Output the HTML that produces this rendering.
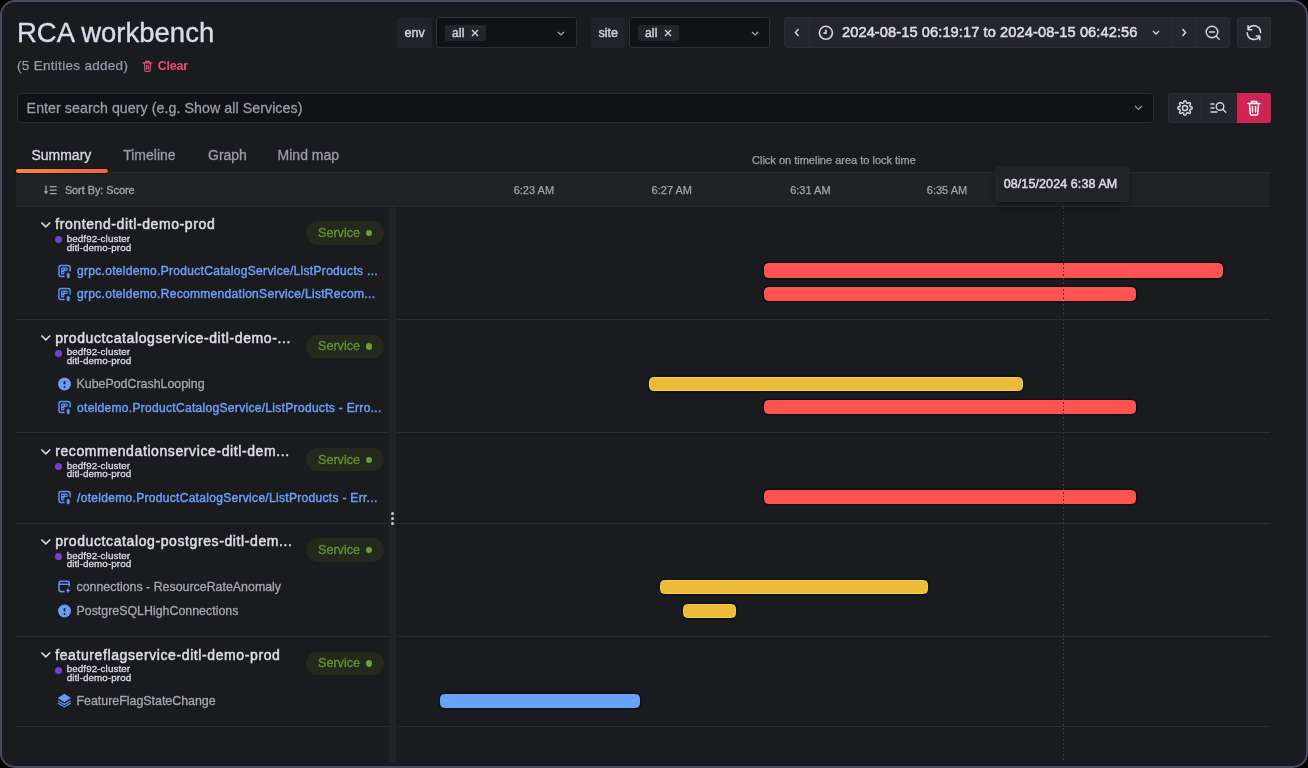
<!DOCTYPE html>
<html><head><meta charset="utf-8">
<style>
html,body{margin:0;padding:0;background:#000;width:1308px;height:768px;overflow:hidden}
*{box-sizing:border-box}
body{font-family:"Liberation Sans",sans-serif}
#frame{position:absolute;left:0;top:0;width:1308px;height:768px;border:2px solid #4a495b;border-radius:15px;background:#1a1b1f;overflow:hidden}
.a{position:absolute;white-space:nowrap}
.t{position:absolute;white-space:nowrap;line-height:1}
svg{position:absolute;overflow:visible}
</style></head>
<body>
<div id="frame"></div>
<div id="ui" style="position:absolute;left:0;top:0;width:1308px;height:768px;will-change:transform">

<!-- Title -->
<div class="t" style="left:17px;top:19px;font-size:27.5px;color:#dcdbe8;-webkit-text-stroke:0.35px #dcdbe8">RCA workbench</div>
<div class="t" style="left:17px;top:58.6px;font-size:13.5px;color:#9a99a6;letter-spacing:0.3px;-webkit-text-stroke:0.25px #9a99a6">(5 Entities added)</div>
<svg style="left:141.5px;top:60px" width="11" height="12" viewBox="0 0 12 13"><path d="M1 3h10M4 3V1.5h4V3M2.5 3l.7 8.5c0 .6.5 1 1 1h3.6c.5 0 1-.4 1-1L9.5 3M5 5.5v4.5M7 5.5v4.5" fill="none" stroke="#e84d74" stroke-width="1.3" stroke-linecap="round" stroke-linejoin="round"/></svg>
<div class="t" style="left:157.7px;top:60.3px;font-size:12.5px;font-weight:700;letter-spacing:-0.2px;color:#ec4f78">Clear</div>

<!-- env -->
<div class="a" style="left:397px;top:17.5px;width:35px;height:30px;background:#222328;border-radius:2px"></div>
<div class="t" style="left:404.4px;top:26.5px;font-size:12.6px;-webkit-text-stroke:0.4px #d6d5df;color:#d6d5df">env</div>
<div class="a" style="left:436px;top:17px;width:141px;height:31px;background:#111216;border:1px solid #2e2f35;border-radius:3px"></div>
<div class="a" style="left:445px;top:24.5px;width:41px;height:16.5px;background:#24252a;border-radius:2px"></div>
<div class="t" style="left:452px;top:27px;font-size:12px;letter-spacing:0.2px;-webkit-text-stroke:0.4px #d6d5df;color:#d6d5df">all</div>
<svg style="left:471px;top:28.5px" width="8" height="8" viewBox="0 0 8 8"><path d="M1 1l6 6M7 1L1 7" stroke="#d6d5df" stroke-width="1.4"/></svg>
<svg style="left:557px;top:31px" width="8" height="5" viewBox="0 0 8 5"><path d="M1 1l3 3 3-3" fill="none" stroke="#a9a8b3" stroke-width="1.2"/></svg>

<!-- site -->
<div class="a" style="left:591px;top:17.5px;width:34px;height:30px;background:#222328;border-radius:2px"></div>
<div class="t" style="left:598.4px;top:26.5px;font-size:12.6px;-webkit-text-stroke:0.4px #d6d5df;color:#d6d5df">site</div>
<div class="a" style="left:629px;top:17px;width:141px;height:31px;background:#111216;border:1px solid #2e2f35;border-radius:3px"></div>
<div class="a" style="left:638px;top:24.5px;width:41px;height:16.5px;background:#24252a;border-radius:2px"></div>
<div class="t" style="left:645px;top:27px;font-size:12px;letter-spacing:0.2px;-webkit-text-stroke:0.4px #d6d5df;color:#d6d5df">all</div>
<svg style="left:664px;top:28.5px" width="8" height="8" viewBox="0 0 8 8"><path d="M1 1l6 6M7 1L1 7" stroke="#d6d5df" stroke-width="1.4"/></svg>
<svg style="left:751px;top:31px" width="8" height="5" viewBox="0 0 8 5"><path d="M1 1l3 3 3-3" fill="none" stroke="#a9a8b3" stroke-width="1.2"/></svg>

<!-- time range group -->
<div class="a" style="left:784px;top:17px;width:446px;height:31px;background:#25262b;border:1px solid #2c2d32;border-radius:3px"></div>
<div class="a" style="left:809px;top:18px;width:1px;height:29px;background:#2d2e34"></div>
<div class="a" style="left:1171px;top:18px;width:1px;height:29px;background:#2d2e34"></div>
<div class="a" style="left:1196px;top:18px;width:1px;height:29px;background:#2d2e34"></div>
<svg style="left:794px;top:28px" width="6" height="9" viewBox="0 0 6 9"><path d="M4.5 1L1.5 4.5 4.5 8" fill="none" stroke="#d6d5df" stroke-width="1.5"/></svg>
<svg style="left:818px;top:25px" width="16" height="16" viewBox="0 0 16 16"><circle cx="7.9" cy="7.8" r="6.5" fill="none" stroke="#d6d5df" stroke-width="1.6"/><path d="M7.9 4.5v3.6H5.5" fill="none" stroke="#d6d5df" stroke-width="1.7"/></svg>
<div class="t" style="left:842px;top:25px;font-size:14.6px;letter-spacing:0.1px;-webkit-text-stroke:0.55px #dcdbe6;color:#dcdbe6">2024-08-15 06:19:17 to 2024-08-15 06:42:56</div>
<svg style="left:1152px;top:30px" width="8" height="5" viewBox="0 0 8 5"><path d="M1 1l3 3 3-3" fill="none" stroke="#d6d5df" stroke-width="1.3"/></svg>
<svg style="left:1181px;top:28px" width="6" height="9" viewBox="0 0 6 9"><path d="M1.5 1l3 3.5L1.5 8" fill="none" stroke="#d6d5df" stroke-width="1.5"/></svg>
<svg style="left:1205px;top:25px" width="16" height="16" viewBox="0 0 16 16"><circle cx="7" cy="7" r="5.8" fill="none" stroke="#d6d5df" stroke-width="1.4"/><path d="M4.5 7h5M11.2 11.2l3 3" fill="none" stroke="#d6d5df" stroke-width="1.4" stroke-linecap="round"/></svg>
<div class="a" style="left:1237px;top:17px;width:33.5px;height:31px;background:#25262b;border:1px solid #2c2d32;border-radius:3px"></div>
<svg style="left:1240px;top:20px" width="28" height="26" viewBox="0 0 28 26"><path d="M8.6 8.4A6.6 6.6 0 0 1 20.5 12.6M7.3 12.9A6.6 6.6 0 0 0 19.3 16.6M8.1 5.9V9.7H11.9M16.3 16H19.7V19.8" fill="none" stroke="#d6d5df" stroke-width="1.6" stroke-linecap="round" stroke-linejoin="round"/></svg>

<!-- search -->
<div class="a" style="left:16.5px;top:93px;width:1137.5px;height:30px;background:#111216;border:1px solid #2a2b30;border-radius:3px"></div>
<div class="t" style="left:26.6px;top:100.5px;font-size:14.2px;letter-spacing:0.07px;-webkit-text-stroke:0.3px #9c9ba6;color:#9c9ba6">Enter search query (e.g. Show all Services)</div>
<svg style="left:1134px;top:105px" width="9" height="6" viewBox="0 0 9 6"><path d="M1 1l3.5 3.5L8 1" fill="none" stroke="#9c9ba6" stroke-width="1.2"/></svg>

<div class="a" style="left:1168px;top:92.5px;width:70px;height:30.5px;background:#25262b;border:1px solid #2c2d32;border-radius:3px 0 0 3px"></div>
<div class="a" style="left:1200.5px;top:93.5px;width:1px;height:28.5px;background:#2d2e34"></div>
<div class="a" style="left:1237px;top:92.5px;width:33.5px;height:30.5px;background:#ce2553;border-radius:0 3px 3px 0"></div>
<svg style="left:1176.6px;top:99.9px" width="16" height="16" viewBox="0 0 16 16"><path d="M15.15 8.00 L15.13 8.28 L15.06 8.56 L14.91 8.82 L14.59 9.04 L14.08 9.21 L13.57 9.34 L13.24 9.48 L13.05 9.64 L12.94 9.82 L12.85 10.01 L12.78 10.20 L12.73 10.41 L12.75 10.66 L12.88 10.99 L13.16 11.44 L13.40 11.92 L13.46 12.31 L13.39 12.60 L13.24 12.84 L13.06 13.06 L12.84 13.24 L12.60 13.39 L12.31 13.46 L11.92 13.40 L11.44 13.16 L10.99 12.88 L10.66 12.75 L10.41 12.73 L10.20 12.78 L10.01 12.85 L9.82 12.94 L9.64 13.05 L9.48 13.24 L9.34 13.57 L9.21 14.08 L9.04 14.59 L8.82 14.91 L8.56 15.06 L8.28 15.13 L8.00 15.15 L7.72 15.13 L7.44 15.06 L7.18 14.91 L6.96 14.59 L6.79 14.08 L6.66 13.57 L6.52 13.24 L6.36 13.05 L6.18 12.94 L5.99 12.85 L5.80 12.78 L5.59 12.73 L5.34 12.75 L5.01 12.88 L4.56 13.16 L4.08 13.40 L3.69 13.46 L3.40 13.39 L3.16 13.24 L2.94 13.06 L2.76 12.84 L2.61 12.60 L2.54 12.31 L2.60 11.92 L2.84 11.44 L3.12 10.99 L3.25 10.66 L3.27 10.41 L3.22 10.20 L3.15 10.01 L3.06 9.82 L2.95 9.64 L2.76 9.48 L2.43 9.34 L1.92 9.21 L1.41 9.04 L1.09 8.82 L0.94 8.56 L0.87 8.28 L0.85 8.00 L0.87 7.72 L0.94 7.44 L1.09 7.18 L1.41 6.96 L1.92 6.79 L2.43 6.66 L2.76 6.52 L2.95 6.36 L3.06 6.18 L3.15 5.99 L3.22 5.80 L3.27 5.59 L3.25 5.34 L3.12 5.01 L2.84 4.56 L2.60 4.08 L2.54 3.69 L2.61 3.40 L2.76 3.16 L2.94 2.94 L3.16 2.76 L3.40 2.61 L3.69 2.54 L4.08 2.60 L4.56 2.84 L5.01 3.12 L5.34 3.25 L5.59 3.27 L5.80 3.22 L5.99 3.15 L6.18 3.06 L6.36 2.95 L6.52 2.76 L6.66 2.43 L6.79 1.92 L6.96 1.41 L7.18 1.09 L7.44 0.94 L7.72 0.87 L8.00 0.85 L8.28 0.87 L8.56 0.94 L8.82 1.09 L9.04 1.41 L9.21 1.92 L9.34 2.43 L9.48 2.76 L9.64 2.95 L9.82 3.06 L10.01 3.15 L10.20 3.22 L10.41 3.27 L10.66 3.25 L10.99 3.12 L11.44 2.84 L11.92 2.60 L12.31 2.54 L12.60 2.61 L12.84 2.76 L13.06 2.94 L13.24 3.16 L13.39 3.40 L13.46 3.69 L13.40 4.08 L13.16 4.56 L12.88 5.01 L12.75 5.34 L12.73 5.59 L12.78 5.80 L12.85 5.99 L12.94 6.18 L13.05 6.36 L13.24 6.52 L13.57 6.66 L14.08 6.79 L14.59 6.96 L14.91 7.18 L15.06 7.44 L15.13 7.72Z" fill="none" stroke="#d6d5df" stroke-width="1.5" stroke-linejoin="round"/><circle cx="8" cy="8" r="2.6" fill="none" stroke="#d6d5df" stroke-width="1.5"/></svg>
<svg style="left:1210.4px;top:100.3px" width="17" height="15" viewBox="0 0 17 15"><path d="M1 4h3M1 8h3M1 12h6" fill="none" stroke="#d6d5df" stroke-width="1.4" stroke-linecap="round"/><circle cx="10" cy="6.5" r="3.8" fill="none" stroke="#d6d5df" stroke-width="1.4"/><path d="M12.8 9.3l3 3" stroke="#d6d5df" stroke-width="1.4" stroke-linecap="round"/></svg>
<svg style="left:1247px;top:100px" width="14" height="16" viewBox="0 0 14 16"><path d="M1 3.5h12M4.5 3.5V1.5h5v2M2.5 3.5l.8 10.5c0 .6.5 1 1 1h5.4c.5 0 1-.4 1-1l.8-10.5M5.5 6.5v5.5M8.5 6.5v5.5" fill="none" stroke="#fff" stroke-width="1.5" stroke-linecap="round" stroke-linejoin="round"/></svg>

<!-- tabs -->
<div class="t" style="left:31.4px;top:147.75px;font-size:14px;-webkit-text-stroke:0.3px #dcdbe6;color:#dcdbe6">Summary</div>
<div class="t" style="left:123.2px;top:147.75px;font-size:14px;-webkit-text-stroke:0.3px #9c9ba6;color:#9c9ba6">Timeline</div>
<div class="t" style="left:208px;top:147.75px;font-size:14px;-webkit-text-stroke:0.3px #9c9ba6;color:#9c9ba6">Graph</div>
<div class="t" style="left:277.6px;top:147.75px;font-size:14px;-webkit-text-stroke:0.3px #9c9ba6;color:#9c9ba6">Mind map</div>
<div class="t" style="left:752px;top:155.3px;font-size:11px;-webkit-text-stroke:0.25px #a3a2ad;color:#a3a2ad">Click on timeline area to lock time</div>

<!-- header band -->
<div class="a" style="left:16px;top:172px;width:1254px;height:35px;background:#212226;border-top:1px solid #28292e;border-bottom:1px solid #28292e"></div>
<svg style="left:43px;top:184px" width="15" height="11" viewBox="0 0 15 11"><path d="M3 2.2V8.6" stroke="#a3a2ad" stroke-width="1.3" stroke-linecap="round"/><path d="M1.2 7.4L3 9.9L4.8 7.4Z" fill="#a3a2ad" stroke="#a3a2ad" stroke-width="0.6" stroke-linejoin="round"/><path d="M6.8 2.6H13.6M6.8 6.1H13.6M6.8 9.6H13.6" stroke="#a3a2ad" stroke-width="1.15"/></svg>
<div class="t" style="left:64.9px;top:185.3px;font-size:10.8px;-webkit-text-stroke:0.35px #a3a2ad;color:#a3a2ad">Sort By: Score</div>
<div class="t" style="left:513.7px;top:184.8px;font-size:11px;-webkit-text-stroke:0.25px #a3a2ad;color:#a3a2ad">6:23 AM</div>
<div class="t" style="left:651.6px;top:184.8px;font-size:11px;-webkit-text-stroke:0.25px #a3a2ad;color:#a3a2ad">6:27 AM</div>
<div class="t" style="left:790.2px;top:184.8px;font-size:11px;-webkit-text-stroke:0.25px #a3a2ad;color:#a3a2ad">6:31 AM</div>
<div class="t" style="left:926.8px;top:184.8px;font-size:11px;-webkit-text-stroke:0.25px #a3a2ad;color:#a3a2ad">6:35 AM</div>

<div class="a" style="left:16px;top:168.6px;width:92px;height:4.2px;border-radius:2.1px;background:linear-gradient(90deg,#fb8538,#f3623b);box-shadow:0 0 0 1px #111418"></div>
<!-- divider strip -->
<div class="a" style="left:389px;top:206.5px;width:7px;height:555px;background:#222327"></div>
<div class="a" style="left:391.3px;top:512px;width:3px;height:3px;border-radius:50%;background:#c8c7d0"></div>
<div class="a" style="left:391.3px;top:517.2px;width:3px;height:3px;border-radius:50%;background:#c8c7d0"></div>
<div class="a" style="left:391.3px;top:522.4px;width:3px;height:3px;border-radius:50%;background:#c8c7d0"></div>

<!-- separators -->
<div class="a" style="left:16px;top:319px;width:373px;height:1px;background:#2b2c31"></div>
<div class="a" style="left:396.5px;top:319px;width:873.5px;height:1px;background:#2b2c31"></div>
<div class="a" style="left:16px;top:432px;width:373px;height:1px;background:#2b2c31"></div>
<div class="a" style="left:396.5px;top:432px;width:873.5px;height:1px;background:#2b2c31"></div>
<div class="a" style="left:16px;top:523px;width:373px;height:1px;background:#2b2c31"></div>
<div class="a" style="left:396.5px;top:523px;width:873.5px;height:1px;background:#2b2c31"></div>
<div class="a" style="left:16px;top:636px;width:373px;height:1px;background:#2b2c31"></div>
<div class="a" style="left:396.5px;top:636px;width:873.5px;height:1px;background:#2b2c31"></div>
<div class="a" style="left:16px;top:726px;width:373px;height:1px;background:#2b2c31"></div>
<div class="a" style="left:396.5px;top:726px;width:873.5px;height:1px;background:#2b2c31"></div>

<svg style="left:39.5px;top:220.80px" width="12" height="8" viewBox="0 0 12 8"><path d="M1.4 1.5L5.8 5.9L10.2 1.5" fill="none" stroke="#dcdbe6" stroke-width="1.6"/></svg>
<div class="t" style="left:55.2px;top:217.35px;font-size:14px;letter-spacing:0.6px;-webkit-text-stroke:0.5px #dedde7;color:#dedde7">frontend-ditl-demo-prod</div>
<div class="a" style="left:55px;top:236.10px;width:7px;height:7px;border-radius:50%;background:#7341cf"></div>
<div class="t" style="left:66.7px;top:233.90px;font-size:9.8px;letter-spacing:0.1px;-webkit-text-stroke:0.3px #dcdbe6;color:#dcdbe6">bedf92-cluster</div>
<div class="t" style="left:66.7px;top:242.50px;font-size:9.8px;letter-spacing:0.1px;-webkit-text-stroke:0.3px #dcdbe6;color:#dcdbe6">ditl-demo-prod</div>
<div class="a" style="left:306px;top:221.10px;width:77.6px;height:23.6px;border-radius:12px;background:#23291d"></div>
<div class="t" style="left:318px;top:226.80px;font-size:12.6px;-webkit-text-stroke:0.3px #63952f;color:#63952f">Service</div>
<div class="a" style="left:366px;top:229.80px;width:6.4px;height:6.4px;border-radius:50%;background:#6b9f33"></div>
<svg style="left:55px;top:260.5px" width="20" height="20" viewBox="0 0 20 20"><path d="M15.1 10.4V6.8Q15.1 4.55 12.85 4.55H6.15Q3.9 4.55 3.9 6.8V13.35Q3.9 15.6 6.15 15.6H9.6" fill="none" stroke="#5f8ff0" stroke-width="1.5"/><path d="M7.2 6.6H11.6Q12.8 6.6 12.8 7.8V8.85Q12.8 10.05 11.6 10.05H9.4V12.3Q9.4 13.5 8.2 13.5H7.2Q6 13.5 6 12.3V7.8Q6 6.6 7.2 6.6Z" fill="#5f8ff0"/><ellipse cx="7.8" cy="8.4" rx="0.75" ry="0.6" fill="#15161a"/><ellipse cx="10.9" cy="8.4" rx="0.75" ry="0.6" fill="#15161a"/><ellipse cx="7.8" cy="11.6" rx="0.75" ry="0.6" fill="#15161a"/><rect x="11.3" y="11.6" width="3.8" height="6" rx="1.9" fill="#5f8ff0" stroke="#1a1b1f" stroke-width="0.7"/></svg>
<div class="t" style="left:77px;top:264.74px;font-size:12px;letter-spacing:0.31px;-webkit-text-stroke:0.45px #6d9ef8;color:#6d9ef8">grpc.oteldemo.ProductCatalogService/ListProducts ...</div>
<svg style="left:55px;top:283.8px" width="20" height="20" viewBox="0 0 20 20"><path d="M15.1 10.4V6.8Q15.1 4.55 12.85 4.55H6.15Q3.9 4.55 3.9 6.8V13.35Q3.9 15.6 6.15 15.6H9.6" fill="none" stroke="#5f8ff0" stroke-width="1.5"/><path d="M7.2 6.6H11.6Q12.8 6.6 12.8 7.8V8.85Q12.8 10.05 11.6 10.05H9.4V12.3Q9.4 13.5 8.2 13.5H7.2Q6 13.5 6 12.3V7.8Q6 6.6 7.2 6.6Z" fill="#5f8ff0"/><ellipse cx="7.8" cy="8.4" rx="0.75" ry="0.6" fill="#15161a"/><ellipse cx="10.9" cy="8.4" rx="0.75" ry="0.6" fill="#15161a"/><ellipse cx="7.8" cy="11.6" rx="0.75" ry="0.6" fill="#15161a"/><rect x="11.3" y="11.6" width="3.8" height="6" rx="1.9" fill="#5f8ff0" stroke="#1a1b1f" stroke-width="0.7"/></svg>
<div class="t" style="left:77px;top:288.04px;font-size:12px;letter-spacing:0.31px;-webkit-text-stroke:0.45px #6d9ef8;color:#6d9ef8">grpc.oteldemo.RecommendationService/ListRecom...</div>
<div class="a" style="left:764.2px;top:263.40px;width:458.7px;height:14.2px;border-radius:4.5px;background:#fe5350;border:1px solid #fe5350;box-shadow:0 0 0 1.4px #0b1115"></div>
<div class="a" style="left:764.2px;top:286.70px;width:372.0px;height:14.2px;border-radius:4.5px;background:#fe5350;border:1px solid #fe5350;box-shadow:0 0 0 1.4px #0b1115"></div>
<svg style="left:39.5px;top:334.30px" width="12" height="8" viewBox="0 0 12 8"><path d="M1.4 1.5L5.8 5.9L10.2 1.5" fill="none" stroke="#dcdbe6" stroke-width="1.6"/></svg>
<div class="t" style="left:55.2px;top:330.85px;font-size:14px;letter-spacing:0.6px;-webkit-text-stroke:0.5px #dedde7;color:#dedde7">productcatalogservice-ditl-demo-...</div>
<div class="a" style="left:55px;top:349.60px;width:7px;height:7px;border-radius:50%;background:#7341cf"></div>
<div class="t" style="left:66.7px;top:347.40px;font-size:9.8px;letter-spacing:0.1px;-webkit-text-stroke:0.3px #dcdbe6;color:#dcdbe6">bedf92-cluster</div>
<div class="t" style="left:66.7px;top:356.00px;font-size:9.8px;letter-spacing:0.1px;-webkit-text-stroke:0.3px #dcdbe6;color:#dcdbe6">ditl-demo-prod</div>
<div class="a" style="left:306px;top:334.60px;width:77.6px;height:23.6px;border-radius:12px;background:#23291d"></div>
<div class="t" style="left:318px;top:340.30px;font-size:12.6px;-webkit-text-stroke:0.3px #63952f;color:#63952f">Service</div>
<div class="a" style="left:366px;top:343.30px;width:6.4px;height:6.4px;border-radius:50%;background:#6b9f33"></div>
<svg style="left:55px;top:374.0px" width="20" height="20" viewBox="0 0 20 20"><circle cx="9.5" cy="10" r="6.5" fill="#6a9bf7"/><path d="M9.5 7.8V9.6" stroke="#15161a" stroke-width="1.8" stroke-linecap="round"/><circle cx="9.5" cy="12.9" r="0.9" fill="#15161a"/></svg>
<div class="t" style="left:76.5px;top:377.90px;font-size:12.4px;-webkit-text-stroke:0.3px #a7a6b0;color:#a7a6b0">KubePodCrashLooping</div>
<svg style="left:55px;top:397.3px" width="20" height="20" viewBox="0 0 20 20"><path d="M15.1 10.4V6.8Q15.1 4.55 12.85 4.55H6.15Q3.9 4.55 3.9 6.8V13.35Q3.9 15.6 6.15 15.6H9.6" fill="none" stroke="#5f8ff0" stroke-width="1.5"/><path d="M7.2 6.6H11.6Q12.8 6.6 12.8 7.8V8.85Q12.8 10.05 11.6 10.05H9.4V12.3Q9.4 13.5 8.2 13.5H7.2Q6 13.5 6 12.3V7.8Q6 6.6 7.2 6.6Z" fill="#5f8ff0"/><ellipse cx="7.8" cy="8.4" rx="0.75" ry="0.6" fill="#15161a"/><ellipse cx="10.9" cy="8.4" rx="0.75" ry="0.6" fill="#15161a"/><ellipse cx="7.8" cy="11.6" rx="0.75" ry="0.6" fill="#15161a"/><rect x="11.3" y="11.6" width="3.8" height="6" rx="1.9" fill="#5f8ff0" stroke="#1a1b1f" stroke-width="0.7"/></svg>
<div class="t" style="left:77px;top:401.54px;font-size:12px;letter-spacing:0.31px;-webkit-text-stroke:0.45px #6d9ef8;color:#6d9ef8">oteldemo.ProductCatalogService/ListProducts - Erro...</div>
<div class="a" style="left:649px;top:376.90px;width:373.8px;height:14.2px;border-radius:4.5px;background:#edbb3c;border:1px solid #fdcb3e;box-shadow:0 0 0 1.4px #0b1115"></div>
<div class="a" style="left:764.2px;top:400.20px;width:372.0px;height:14.2px;border-radius:4.5px;background:#fe5350;border:1px solid #fe5350;box-shadow:0 0 0 1.4px #0b1115"></div>
<svg style="left:39.5px;top:447.60px" width="12" height="8" viewBox="0 0 12 8"><path d="M1.4 1.5L5.8 5.9L10.2 1.5" fill="none" stroke="#dcdbe6" stroke-width="1.6"/></svg>
<div class="t" style="left:55.2px;top:444.15px;font-size:14px;letter-spacing:0.6px;-webkit-text-stroke:0.5px #dedde7;color:#dedde7">recommendationservice-ditl-dem...</div>
<div class="a" style="left:55px;top:462.90px;width:7px;height:7px;border-radius:50%;background:#7341cf"></div>
<div class="t" style="left:66.7px;top:460.70px;font-size:9.8px;letter-spacing:0.1px;-webkit-text-stroke:0.3px #dcdbe6;color:#dcdbe6">bedf92-cluster</div>
<div class="t" style="left:66.7px;top:469.30px;font-size:9.8px;letter-spacing:0.1px;-webkit-text-stroke:0.3px #dcdbe6;color:#dcdbe6">ditl-demo-prod</div>
<div class="a" style="left:306px;top:447.90px;width:77.6px;height:23.6px;border-radius:12px;background:#23291d"></div>
<div class="t" style="left:318px;top:453.60px;font-size:12.6px;-webkit-text-stroke:0.3px #63952f;color:#63952f">Service</div>
<div class="a" style="left:366px;top:456.60px;width:6.4px;height:6.4px;border-radius:50%;background:#6b9f33"></div>
<svg style="left:55px;top:487.3px" width="20" height="20" viewBox="0 0 20 20"><path d="M15.1 10.4V6.8Q15.1 4.55 12.85 4.55H6.15Q3.9 4.55 3.9 6.8V13.35Q3.9 15.6 6.15 15.6H9.6" fill="none" stroke="#5f8ff0" stroke-width="1.5"/><path d="M7.2 6.6H11.6Q12.8 6.6 12.8 7.8V8.85Q12.8 10.05 11.6 10.05H9.4V12.3Q9.4 13.5 8.2 13.5H7.2Q6 13.5 6 12.3V7.8Q6 6.6 7.2 6.6Z" fill="#5f8ff0"/><ellipse cx="7.8" cy="8.4" rx="0.75" ry="0.6" fill="#15161a"/><ellipse cx="10.9" cy="8.4" rx="0.75" ry="0.6" fill="#15161a"/><ellipse cx="7.8" cy="11.6" rx="0.75" ry="0.6" fill="#15161a"/><rect x="11.3" y="11.6" width="3.8" height="6" rx="1.9" fill="#5f8ff0" stroke="#1a1b1f" stroke-width="0.7"/></svg>
<div class="t" style="left:77px;top:491.54px;font-size:12px;letter-spacing:0.31px;-webkit-text-stroke:0.45px #6d9ef8;color:#6d9ef8">/oteldemo.ProductCatalogService/ListProducts - Err...</div>
<div class="a" style="left:764.2px;top:490.20px;width:372.0px;height:14.2px;border-radius:4.5px;background:#fe5350;border:1px solid #fe5350;box-shadow:0 0 0 1.4px #0b1115"></div>
<svg style="left:39.5px;top:537.70px" width="12" height="8" viewBox="0 0 12 8"><path d="M1.4 1.5L5.8 5.9L10.2 1.5" fill="none" stroke="#dcdbe6" stroke-width="1.6"/></svg>
<div class="t" style="left:55.2px;top:534.25px;font-size:14px;letter-spacing:0.6px;-webkit-text-stroke:0.5px #dedde7;color:#dedde7">productcatalog-postgres-ditl-dem...</div>
<div class="a" style="left:55px;top:553.00px;width:7px;height:7px;border-radius:50%;background:#7341cf"></div>
<div class="t" style="left:66.7px;top:550.80px;font-size:9.8px;letter-spacing:0.1px;-webkit-text-stroke:0.3px #dcdbe6;color:#dcdbe6">bedf92-cluster</div>
<div class="t" style="left:66.7px;top:559.40px;font-size:9.8px;letter-spacing:0.1px;-webkit-text-stroke:0.3px #dcdbe6;color:#dcdbe6">ditl-demo-prod</div>
<div class="a" style="left:306px;top:538.00px;width:77.6px;height:23.6px;border-radius:12px;background:#23291d"></div>
<div class="t" style="left:318px;top:543.70px;font-size:12.6px;-webkit-text-stroke:0.3px #63952f;color:#63952f">Service</div>
<div class="a" style="left:366px;top:546.70px;width:6.4px;height:6.4px;border-radius:50%;background:#6b9f33"></div>
<svg style="left:55px;top:577.4px" width="20" height="20" viewBox="0 0 20 20"><path d="M14.3 9.5V6.2Q14.3 4.2 12.3 4.2H6Q4 4.2 4 6.2V12.6Q4 14.6 6 14.6H9.5M4 7.3H14.3" fill="none" stroke="#5f8ff0" stroke-width="1.6"/><path d="M13 10.4Q13.4 13 15.2 13.4Q13.4 13.8 13 16.4Q12.6 13.8 10.8 13.4Q12.6 13 13 10.4Z" fill="#6a9bf7"/></svg>
<div class="t" style="left:76.5px;top:581.30px;font-size:12.4px;-webkit-text-stroke:0.3px #a7a6b0;color:#a7a6b0">connections - ResourceRateAnomaly</div>
<svg style="left:55px;top:600.7px" width="20" height="20" viewBox="0 0 20 20"><circle cx="9.5" cy="10" r="6.5" fill="#6a9bf7"/><path d="M9.5 7.8V9.6" stroke="#15161a" stroke-width="1.8" stroke-linecap="round"/><circle cx="9.5" cy="12.9" r="0.9" fill="#15161a"/></svg>
<div class="t" style="left:76.5px;top:604.60px;font-size:12.4px;-webkit-text-stroke:0.3px #a7a6b0;color:#a7a6b0">PostgreSQLHighConnections</div>
<div class="a" style="left:660.4px;top:580.30px;width:267.3px;height:14.2px;border-radius:4.5px;background:#edbb3c;border:1px solid #fdcb3e;box-shadow:0 0 0 1.4px #0b1115"></div>
<div class="a" style="left:683.1px;top:603.60px;width:52.8px;height:14.2px;border-radius:4.5px;background:#edbb3c;border:1px solid #fdcb3e;box-shadow:0 0 0 1.4px #0b1115"></div>
<svg style="left:39.5px;top:651.30px" width="12" height="8" viewBox="0 0 12 8"><path d="M1.4 1.5L5.8 5.9L10.2 1.5" fill="none" stroke="#dcdbe6" stroke-width="1.6"/></svg>
<div class="t" style="left:55.2px;top:647.85px;font-size:14px;letter-spacing:0.6px;-webkit-text-stroke:0.5px #dedde7;color:#dedde7">featureflagservice-ditl-demo-prod</div>
<div class="a" style="left:55px;top:666.60px;width:7px;height:7px;border-radius:50%;background:#7341cf"></div>
<div class="t" style="left:66.7px;top:664.40px;font-size:9.8px;letter-spacing:0.1px;-webkit-text-stroke:0.3px #dcdbe6;color:#dcdbe6">bedf92-cluster</div>
<div class="t" style="left:66.7px;top:673.00px;font-size:9.8px;letter-spacing:0.1px;-webkit-text-stroke:0.3px #dcdbe6;color:#dcdbe6">ditl-demo-prod</div>
<div class="a" style="left:306px;top:651.60px;width:77.6px;height:23.6px;border-radius:12px;background:#23291d"></div>
<div class="t" style="left:318px;top:657.30px;font-size:12.6px;-webkit-text-stroke:0.3px #63952f;color:#63952f">Service</div>
<div class="a" style="left:366px;top:660.30px;width:6.4px;height:6.4px;border-radius:50%;background:#6b9f33"></div>
<svg style="left:55px;top:691.0px" width="20" height="20" viewBox="0 0 20 20"><path d="M9.4 3.4L15 6.9L9.4 10.4L3.7 6.9Z" fill="#6a9bf7" stroke="#6a9bf7" stroke-width="1.2" stroke-linejoin="round"/><path d="M3.4 10L9.4 13.4L15.4 10M3.4 12.4L9.4 15.8L15.4 12.4" fill="none" stroke="#5f8ff0" stroke-width="1.3" stroke-linejoin="round" stroke-linecap="round"/></svg>
<div class="t" style="left:76.5px;top:694.90px;font-size:12.4px;-webkit-text-stroke:0.3px #a7a6b0;color:#a7a6b0">FeatureFlagStateChange</div>
<div class="a" style="left:439.8px;top:693.90px;width:200.4px;height:14.2px;border-radius:4.5px;background:#68a2f8;border:1px solid #68a2f8;box-shadow:0 0 0 1.4px #0b1115"></div>

<!-- dashed line -->
<div class="a" style="left:1063px;top:207px;width:1px;height:555px;background:repeating-linear-gradient(180deg,#363a46 0 1.6px,transparent 1.6px 3.75px)"></div>

<!-- tooltip -->
<div class="a" style="left:995.3px;top:166px;width:135.2px;height:35.8px;background:#222327;border-radius:3px;box-shadow:0 3px 6px rgba(0,0,0,0.35)"></div>
<div class="t" style="left:1003.7px;top:178px;font-size:12.5px;letter-spacing:0.1px;-webkit-text-stroke:0.5px #dcdbe6;color:#dcdbe6">08/15/2024 6:38 AM</div>

</div>
</body></html>
